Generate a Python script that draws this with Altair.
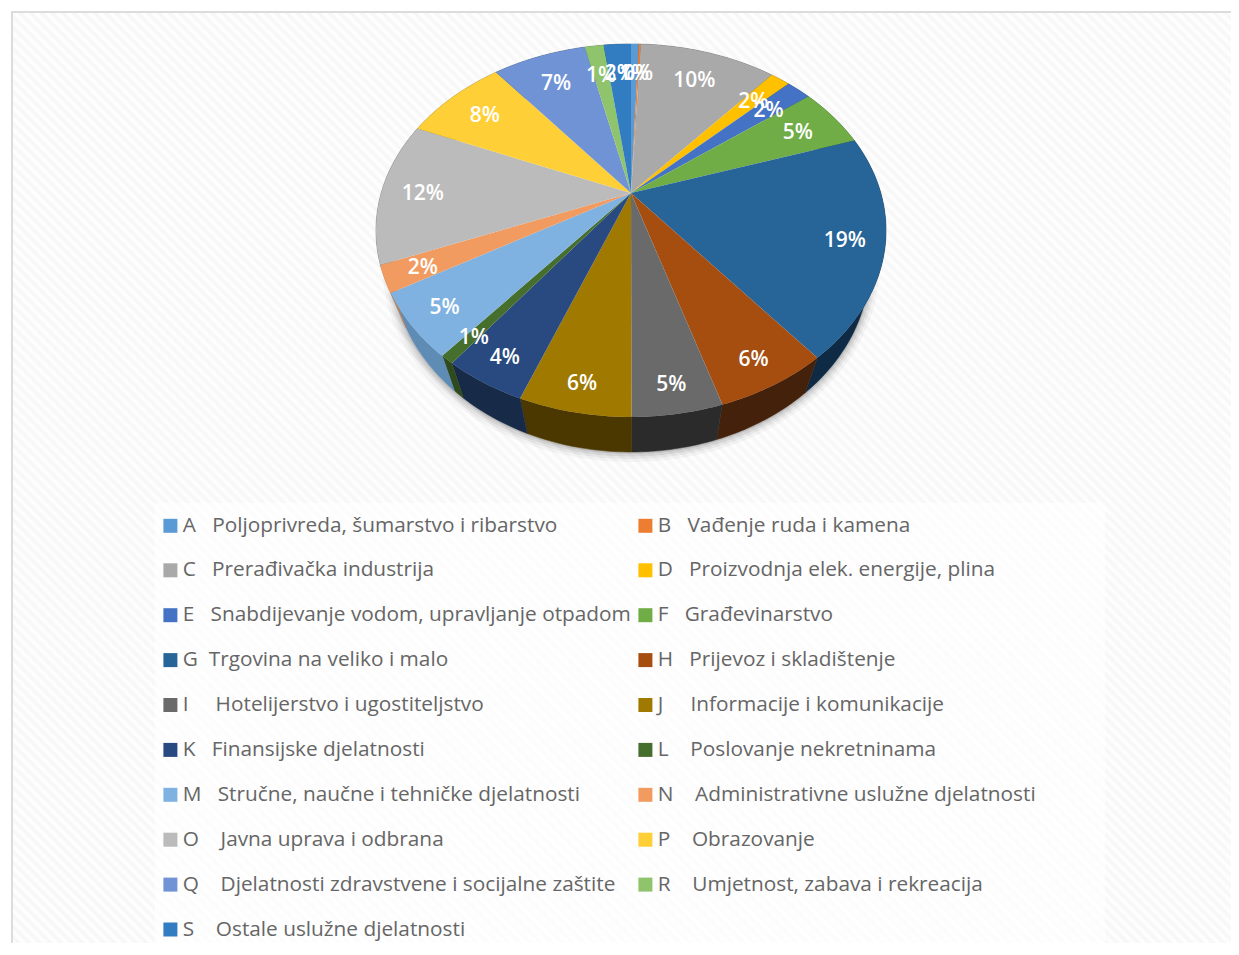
import math
import altair as alt

names = [
    "A\u00a0\u00a0\u00a0Poljoprivreda, šumarstvo i ribarstvo",
    "B\u00a0\u00a0\u00a0Vađenje ruda i kamena",
    "C\u00a0\u00a0\u00a0Prerađivačka industrija",
    "D\u00a0\u00a0\u00a0Proizvodnja elek. energije, plina",
    "E\u00a0\u00a0\u00a0Snabdijevanje vodom, upravljanje otpadom",
    "F\u00a0\u00a0\u00a0Građevinarstvo",
    "G\u00a0\u00a0Trgovina na veliko i malo",
    "H\u00a0\u00a0\u00a0Prijevoz i skladištenje",
    "I\u00a0\u00a0\u00a0\u00a0\u00a0Hotelijerstvo i ugostiteljstvo",
    "J\u00a0\u00a0\u00a0\u00a0\u00a0Informacije i komunikacije",
    "K\u00a0\u00a0\u00a0Finansijske djelatnosti",
    "L\u00a0\u00a0\u00a0\u00a0Poslovanje nekretninama",
    "M\u00a0\u00a0\u00a0Stručne, naučne i tehničke djelatnosti",
    "N\u00a0\u00a0\u00a0\u00a0Administrativne uslužne djelatnosti",
    "O\u00a0\u00a0\u00a0\u00a0Javna uprava i odbrana",
    "P\u00a0\u00a0\u00a0\u00a0Obrazovanje",
    "Q\u00a0\u00a0\u00a0\u00a0Djelatnosti zdravstvene i socijalne zaštite",
    "R\u00a0\u00a0\u00a0\u00a0Umjetnost, zabava i rekreacija",
    "S\u00a0\u00a0\u00a0\u00a0Ostale uslužne djelatnosti",
]
values = [0.6, 0.15, 10.5, 1.5, 1.9, 5.3, 19.2, 6.05, 4.75, 5.9, 4.4, 0.75, 5.6, 2.3, 12.4, 7.9, 7.2, 1.45, 2.1]
labels = ["1%", "0%", "10%", "2%", "2%", "5%", "19%", "6%", "5%", "6%", "4%", "1%", "5%", "2%", "12%", "8%", "7%", "1%", "2%"]
colors = ["#5b9bd5", "#ed7d31", "#a9a9a9", "#ffc000", "#4472c4", "#70ad47", "#276599", "#a64e10", "#6a6a6a",
          "#a07a00", "#294a80", "#466e2d", "#7fb2e0", "#f29b60", "#bbbbbb", "#ffcf38", "#7093d6", "#8fc46c", "#327dc2"]
walls = ["#2e5d85", "#8e4b1d", "#636363", "#997300", "#294577", "#44682b", "#0f2a44", "#44210a", "#2b2b2b",
         "#4a3800", "#172a47", "#2e4a1e", "#5f8cb4", "#c47c4a", "#6e6e6e", "#99801f", "#3f557d", "#54743e", "#1e4b74"]

W, H = 1223, 935
CX, S, A, K = 623.0, 249.8, 140.15, -0.2011
AY0 = 193.0
DEPTH, SHRINK = 35.0, 0.935


def project(theta, r=1.0):
    t = math.radians(theta)
    u, v = r * math.sin(t), -r * math.cos(t)
    d = 1 + K * v
    return CX + S * u / d, (AY0 + A * v) / d - 8


def lower(p):
    return CX + (p[0] - CX) * SHRINK, p[1] + DEPTH


def arc(a, b):
    n = max(2, int(abs(b - a)) + 2)
    return [project(a + (b - a) * i / (n - 1)) for i in range(n)]


total = sum(values)
edges = [0.0]
for val in values:
    edges.append(edges[-1] + val / total * 360)

faces, sides, texts = [], [], []
for i, name in enumerate(names):
    a, b = edges[i], edges[i + 1]
    top = arc(a, b)
    face = [project(a, 0)] + top + [project(a, 0)]
    side = top + [lower(p) for p in reversed(top)] + [top[0]]
    faces.append({"type": "Feature", "properties": {"name": name},
                  "geometry": {"type": "Polygon", "coordinates": [[list(p) for p in face]]}})
    sides.append({"type": "Feature", "properties": {"fill": walls[i]},
                  "geometry": {"type": "Polygon", "coordinates": [[list(p) for p in side]]}})
    mid = (a + b) / 2
    lx, ly = project(mid, 0.835 - 0.05 * math.cos(math.radians(mid)))
    texts.append({"lon": lx, "lat": ly, "label": labels[i]})

rim = [lower(project(t)) for t in range(0, 361, 2)]
rim_feature = {"type": "Feature", "properties": {},
               "geometry": {"type": "Polygon", "coordinates": [[list(p) for p in rim]]}}

proj = dict(type="identity", scale=1, translate=[0, 0])

# hatched backdrop
RATIO = H / W
L = (1 + RATIO) / (1 + RATIO ** 2)
PERIOD = 10.5
n_stripes = int((W + H) / PERIOD)
stops = []
for i in range(n_stripes):
    stops.append(alt.GradientStop(offset=i / n_stripes, color="#ffffff"))
    stops.append(alt.GradientStop(offset=(i + 0.5) / n_stripes, color="#f6f6f6"))
stops.append(alt.GradientStop(offset=1, color="#ffffff"))
backdrop = alt.Chart(alt.Data(values=[{}])).mark_rect(
    color=alt.Gradient(gradient="linear", stops=stops, x1=0, y1=1, x2=L, y2=1 - L * RATIO),
    stroke="#dcdcdc", strokeWidth=2,
).encode(x=alt.value(4), x2=alt.value(W + 20), y=alt.value(4), y2=alt.value(H + 20))

legend_box = alt.Chart(alt.Data(values=[{}])).mark_rect(color="#ffffff", opacity=0.65).encode(
    x=alt.value(147), x2=alt.value(1097), y=alt.value(495), y2=alt.value(H))

shadows = []
for width, op in [(20, 0.035), (14, 0.05), (9, 0.07), (4, 0.1)]:
    shadows.append(
        alt.Chart(alt.Data(values=[rim_feature])).mark_geoshape(
            filled=False, stroke="#000000", strokeWidth=width, strokeOpacity=op
        ).project(**proj)
    )

side_layer = alt.Chart(alt.Data(values=sides)).mark_geoshape(strokeWidth=0.5).encode(
    color=alt.Color("properties.fill:N", scale=None),
    stroke=alt.Stroke("properties.fill:N", scale=None),
).project(**proj)

face_layer = alt.Chart(alt.Data(values=faces)).mark_geoshape(strokeWidth=0).encode(
    color=alt.Color(
        "properties.name:N",
        scale=alt.Scale(domain=names, range=colors),
        legend=alt.Legend(
            title=None, orient="none", legendX=152, legendY=507, columns=2,
            direction="horizontal",
            symbolType="square", symbolSize=196, symbolStrokeWidth=0, labelOffset=2,
            labelFont="Open Sans", labelFontSize=20.8, labelColor="#666666", labelLimit=600,
            rowPadding=22.9, columnPadding=4, gridAlign="each", padding=0,
        ),
    ),
).project(**proj)

text_layer = alt.Chart(alt.Data(values=texts)).mark_text(
    font="Open Sans", fontSize=21, fontWeight=600, color="#ffffff", align="center", baseline="middle", dy=2.5
).encode(longitude="lon:Q", latitude="lat:Q", text="label:N").project(**proj)

chart = alt.layer(backdrop, legend_box, *shadows, side_layer, face_layer, text_layer).resolve_scale(
    color="independent", stroke="independent"
).properties(
    width=W, height=H, padding=0, background="#ffffff",
    autosize=alt.AutoSizeParams(type="none"),
).configure_view(strokeWidth=0)

chart.save("out.html", embed_options={"renderer": "svg", "actions": False})
